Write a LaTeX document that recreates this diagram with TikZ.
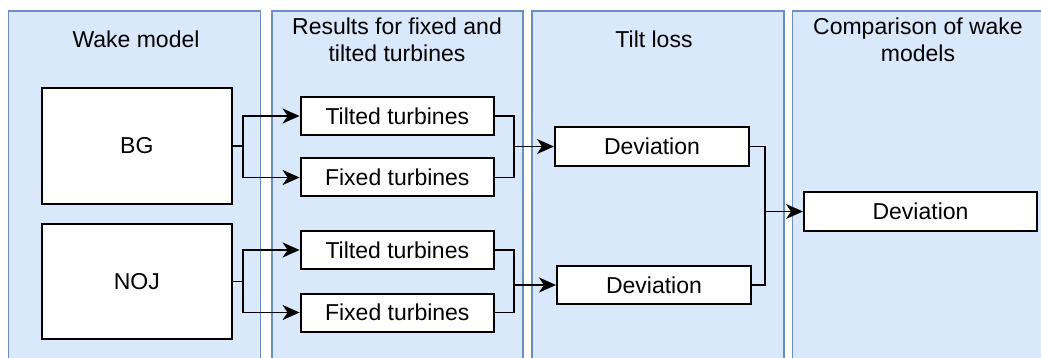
\documentclass[tikz,border=0pt]{standalone}
\usepackage{fontspec}
\setmainfont{Liberation Sans}
\usetikzlibrary{arrows.meta}
\definecolor{lanefill}{HTML}{DAE8FC}
\definecolor{laneline}{HTML}{6C8EBF}
\tikzset{
  lane/.style={fill=lanefill,draw=laneline,line width=1.4pt},
  box/.style={draw=black,fill=white,line width=2pt,inner sep=0pt,font=\fontsize{23}{27}\selectfont},
  title/.style={align=center,font=\fontsize{23}{27}\selectfont,inner sep=0pt},
  conn/.style={line width=1.8pt,draw=black},
  arr/.style={conn,-{Stealth[length=17pt,width=15pt,inset=5pt]}}
}
\begin{document}
\begin{tikzpicture}[x=1pt,y=-1pt]
\useasboundingbox (0,0) rectangle (1041,358);
\fill[white] (0,0) rectangle (1041,358);
\clip (0,0) rectangle (1041,358);
% lanes
\draw[lane] (8.6,11) rectangle (260.7,370);
\draw[lane] (272,11) rectangle (523,370);
\draw[lane] (532,11) rectangle (784,370);
\draw[lane] (792.6,11) rectangle (1050,370);
% titles
\node[title] (t1) at (136,39) {Wake model};
\node[title] (t2) at (397,39.5) {Results for fixed and\\tilted turbines};
\node[title] (t3) at (654,39) {Tilt loss};
\node[title] (t4) at (918,39.5) {Comparison of wake\\models};
% boxes
\node[box,minimum width=189.7pt,minimum height=116pt] (BG) at (136.8,146) {BG};
\node[box,minimum width=189.7pt,minimum height=115pt] (NOJ) at (136.8,281.5) {NOJ};
\node[box,minimum width=193.4pt,minimum height=38pt] (T1) at (397.3,116) {Tilted turbines};
\node[box,minimum width=193.4pt,minimum height=38pt] (F1) at (397.3,177.5) {Fixed turbines};
\node[box,minimum width=193.4pt,minimum height=38pt] (T2) at (397.3,250) {Tilted turbines};
\node[box,minimum width=193.4pt,minimum height=38pt] (F2) at (397.3,312.5) {Fixed turbines};
\node[box,minimum width=194pt,minimum height=38.5pt] (D1) at (652,146.5) {Deviation};
\node[box,minimum width=194pt,minimum height=38pt] (D2) at (654,285) {Deviation};
\node[box,minimum width=233pt,minimum height=38.5pt] (D3) at (920.5,211.5) {Deviation};
% junctions
\coordinate (s1) at (242.8,146);
\coordinate (s2) at (242.8,281.5);
\coordinate (m1) at (513.8,146.5);
\coordinate (m2) at (513.8,285);
\coordinate (m3) at (764.7,211.5);
% connectors
\draw[conn] (BG.east) -- (s1);
\draw[arr] (s1) |- (T1.west);
\draw[arr] (s1) |- (F1.west);
\draw[conn] (NOJ.east) -- (s2);
\draw[arr] (s2) |- (T2.west);
\draw[arr] (s2) |- (F2.west);
\draw[conn] (T1.east) -| (m1);
\draw[conn] (F1.east) -| (m1);
\draw[arr] (m1) -- (D1.west);
\draw[conn] (T2.east) -| (m2);
\draw[conn] (F2.east) -| (m2);
\draw[arr] (m2) -- (D2.west);
\draw[conn] (D1.east) -| (m3);
\draw[conn] (D2.east) -| (m3);
\draw[arr] (m3) -- (D3.west);
\end{tikzpicture}
\end{document}
